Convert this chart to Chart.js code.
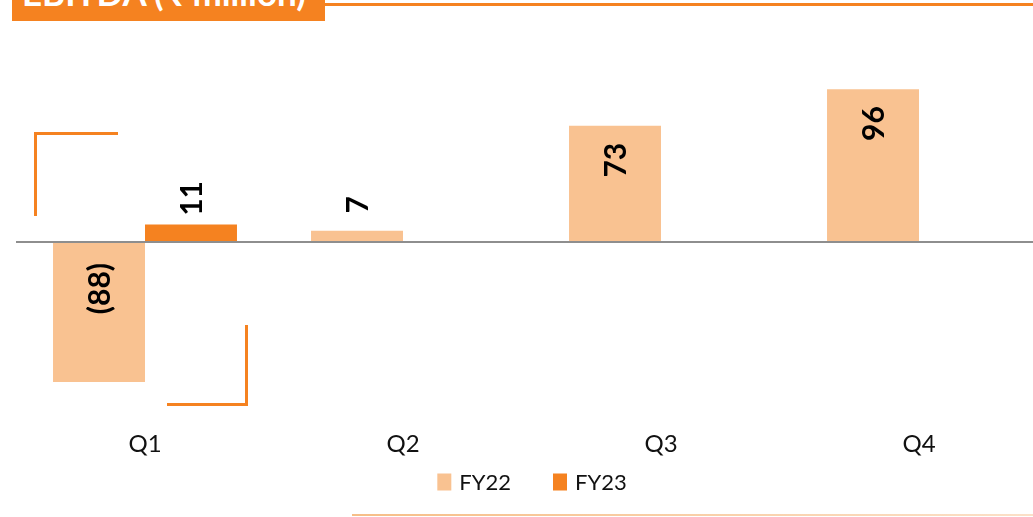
<!DOCTYPE html>
<html>
<head>
<meta charset="utf-8">
<script src="https://cdn.jsdelivr.net/npm/chart.js@4"></script>
<style>
  html, body { margin: 0; padding: 0; background: #fff; }
  body { width: 1033px; height: 517px; overflow: hidden; position: relative; }
  #wrap { position: absolute; left: 0; top: 0; width: 1060px; height: 517px; }
  .title-box {
    position: absolute; left: 12px; top: 0; width: 313px; height: 21px;
    background: #F58220; overflow: hidden;
  }
  .title-box span {
    position: absolute; left: 10px; bottom: 11px;
    font: bold 35px Lato, "Noto Sans", sans-serif; color: #fff; line-height: 1; white-space: nowrap;
  }
  .rule-top { position: absolute; left: 325px; top: 3px; width: 708px; height: 3px; background: #F58220; }
  .rule-bottom {
    position: absolute; left: 352px; top: 514px; width: 681px; height: 2px;
    background: linear-gradient(to right, #F6BE88, #FBE0C8);
  }
  .seg { position: absolute; background: #F58220; }
</style>
</head>
<body>
<div id="wrap"><canvas id="c" width="1060" height="517"></canvas></div>
<div class="title-box"><span>EBITDA (₹ million)</span></div>
<div class="rule-top"></div>
<div class="rule-bottom"></div>
<div class="seg" style="left:34px;top:132px;width:3px;height:84px"></div>
<div class="seg" style="left:34px;top:132px;width:84px;height:3px"></div>
<div class="seg" style="left:245px;top:325px;width:3px;height:81px"></div>
<div class="seg" style="left:167px;top:403px;width:81px;height:3px"></div>
<script>
const quarters = ['Q1', 'Q2', 'Q3', 'Q4'];
const fy22 = [-88, 7, 73, 96];
const fy23 = [11, null, null, null];
const seriesNames = ['FY22', 'FY23'];
const seriesColors = ['#F9C291', '#F58220'];

// Rotated value labels: negatives shown in parentheses
const valueLabels = {
  id: 'valueLabels',
  afterDatasetsDraw(chart) {
    const ctx = chart.ctx;
    ctx.save();
    ctx.font = 'bold 30px Lato, "Noto Sans", sans-serif';
    ctx.fillStyle = '#000';
    ctx.textBaseline = 'middle';
    chart.data.datasets.forEach((ds, di) => {
      const meta = chart.getDatasetMeta(di);
      meta.data.forEach((bar, i) => {
        const v = ds.data[i];
        if (v === null || v === undefined) return;
        const txt = v < 0 ? '(' + (-v) + ')' : String(v);
        const top = Math.min(bar.y, bar.base);
        const len = Math.abs(bar.base - bar.y);
        let ay, align;
        if (v < 0) { ay = bar.base + 20; align = 'right'; }
        else if (len > 60) { ay = top + 17; align = 'right'; }
        else { ay = top - 26; align = 'center'; }
        ctx.save();
        ctx.translate(bar.x, ay);
        ctx.rotate(-Math.PI / 2);
        ctx.textAlign = align;
        ctx.fillText(txt, 0, 1);
        ctx.restore();
      });
    });
    ctx.restore();
  }
};

// Series key below the axis labels, centred on the plot area
const seriesKey = {
  id: 'seriesKey',
  afterDraw(chart) {
    const ctx = chart.ctx;
    const box = { w: 14, h: 17 }, gap = 8, spacing = 42, cy = 482;
    ctx.save();
    ctx.font = '22px Lato, "Noto Sans", sans-serif';
    ctx.textBaseline = 'middle';
    ctx.textAlign = 'left';
    const items = chart.data.datasets.map(ds => ({
      text: ds.label, color: ds.backgroundColor, w: ctx.measureText(ds.label).width
    }));
    const total = items.reduce((s, it) => s + box.w + gap + it.w, 0) + spacing * (items.length - 1);
    let x = (chart.chartArea.left + chart.chartArea.right) / 2 - total / 2;
    items.forEach(it => {
      ctx.fillStyle = it.color;
      ctx.fillRect(x, cy - box.h / 2, box.w, box.h);
      ctx.fillStyle = '#111';
      ctx.fillText(it.text, x + box.w + gap, cy + 1);
      x += box.w + gap + it.w + spacing;
    });
    ctx.restore();
  }
};

new Chart(document.getElementById('c'), {
  type: 'bar',
  data: {
    labels: quarters,
    datasets: [
      { label: seriesNames[0], data: fy22, backgroundColor: seriesColors[0] },
      { label: seriesNames[1], data: fy23, backgroundColor: seriesColors[1] }
    ]
  },
  options: {
    responsive: false,
    animation: false,
    events: [],
    layout: { padding: { left: 16, right: 12, top: 51, bottom: 56 } },
    datasets: { bar: { barPercentage: 1, categoryPercentage: 0.713, skipNull: false } },
    scales: {
      x: {
        grid: { display: false },
        border: { display: false },
        ticks: { color: '#111', padding: 21, font: { family: 'Lato', size: 24 } },
        afterFit: s => { s.height = 60; }
      },
      y: {
        min: -100, max: 120,
        ticks: { display: false, stepSize: 10 },
        border: { display: false },
        grid: {
          drawTicks: false,
          lineWidth: 2,
          color: c => (c.tick && c.tick.value === 0 ? '#8E8E8E' : 'rgba(0,0,0,0)')
        }
      }
    },
    plugins: {
      legend: { display: false },
      tooltip: { enabled: false }
    }
  },
  plugins: [valueLabels, seriesKey]
});
</script>
</body>
</html>
